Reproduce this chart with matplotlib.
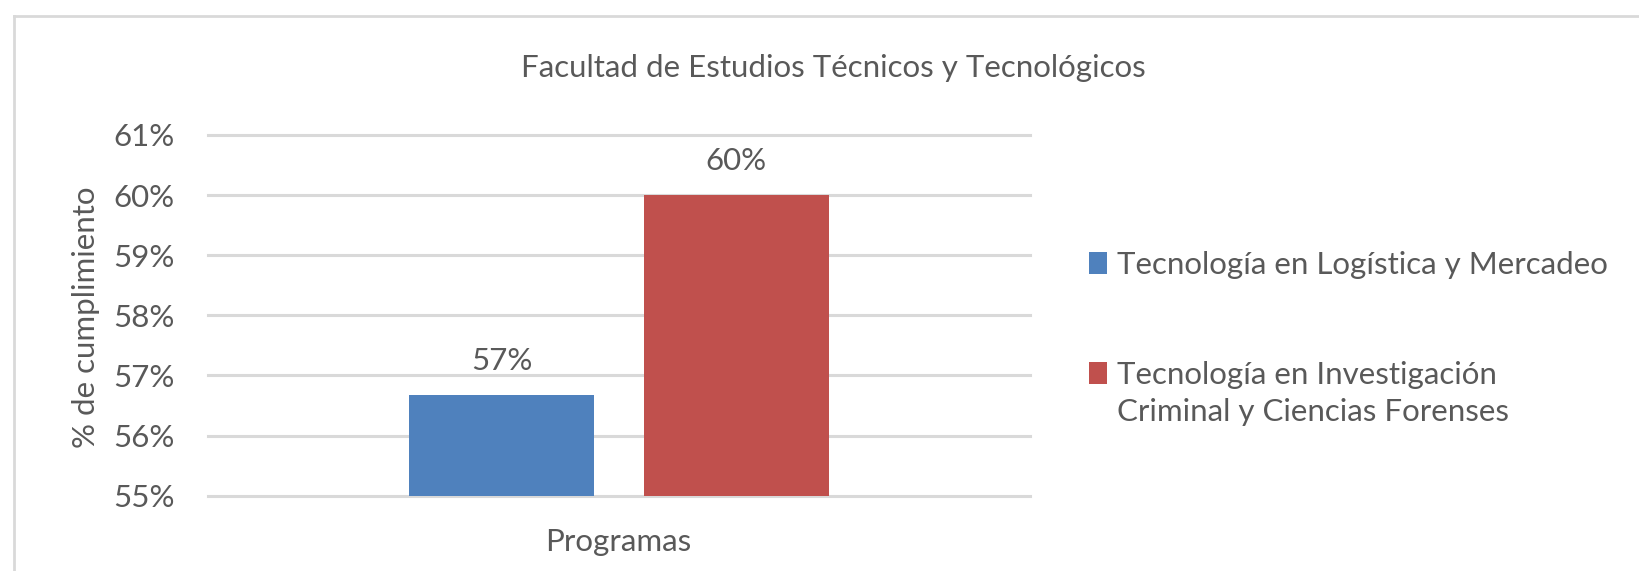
import matplotlib
matplotlib.use("Agg")
import matplotlib.pyplot as plt
from matplotlib.lines import Line2D
from matplotlib.patches import Rectangle
from matplotlib.ticker import FuncFormatter

# ---- data ----
title = "Facultad de Estudios Técnicos y Tecnológicos"
category = "Programas"
series_names = ["Tecnología en Logística y Mercadeo",
                "Tecnología en Investigación\nCriminal y Ciencias Forenses"]
series_values = [0.5667, 0.6000]
value_labels = ["57%", "60%"]
series_colors = ["#4F81BD", "#C0504D"]
y_ticks = [0.55, 0.56, 0.57, 0.58, 0.59, 0.60, 0.61]
y_label = "% de cumplimiento"

TXT = "#595959"
GRID = "#D9D9D9"
FS = 22.5
plt.rcParams['font.family'] = ['Lato', 'DejaVu Sans']

W, H = 1640, 571
fig = plt.figure(figsize=(W / 100, H / 100), dpi=100)
fig.patch.set_facecolor("white")

# chart border (top and left visible)
fig.add_artist(Line2D([14 / W, 1.0], [1 - 16 / H, 1 - 16 / H], color=GRID, lw=2.0,
                      transform=fig.transFigure))
fig.add_artist(Line2D([14 / W, 14 / W], [1 - 16 / H, 0.0], color=GRID, lw=2.0,
                      transform=fig.transFigure))

left, right = 207.7, 1030
top, bottom = 135, 495.7
ax = fig.add_axes([left / W, 1 - bottom / H, (right - left) / W, (bottom - top) / H])

bar_w = 0.225
offsets = [-0.1427, 0.1427]
for off, v, c, lbl in zip(offsets, series_values, series_colors, value_labels):
    ax.bar(off, v - y_ticks[0], bottom=y_ticks[0], width=bar_w, color=c, zorder=3)
    ax.annotate(lbl, xy=(off, v), xytext=(0, 18), textcoords="offset points",
                ha="center", va="baseline", fontsize=FS, color=TXT)

ax.set_xlim(-0.5, 0.5)
ax.set_ylim(y_ticks[0], y_ticks[-1])
ax.set_yticks(y_ticks)
ax.yaxis.set_major_formatter(FuncFormatter(lambda v, p: f"{round(v * 100)}%"))
ax.set_xticks([])
for s in ax.spines.values():
    s.set_visible(False)
ax.tick_params(axis="y", length=0, pad=24, labelsize=FS, labelcolor=TXT)
ax.grid(axis="y", color=GRID, lw=2.2, zorder=0)
ax.set_axisbelow(True)
for gl in ax.get_ygridlines():
    gl.set_clip_on(False)

# titles
fig.text(833 / W, 1 - 77 / H, title, ha="center", va="baseline", fontsize=FS, color=TXT)
fig.text(618 / W, 1 - 551 / H, category, ha="center", va="baseline", fontsize=FS, color=TXT)
fig.text(86 / W, 1 - 317 / H, y_label, ha="center", va="center", rotation=90,
         fontsize=FS, color=TXT)

# legend (swatch aligned to first line of each entry)
legend_baselines = [274, 384]
line_step = 37.5
for name, c, yb in zip(series_names, series_colors, legend_baselines):
    fig.add_artist(Rectangle((1089 / W, 1 - yb / H), 18 / W, 22 / H,
                             transform=fig.transFigure, color=c, lw=0))
    for i, line in enumerate(name.split("\n")):
        fig.text(1117 / W, 1 - (yb + i * line_step) / H, line, ha="left",
                 va="baseline", fontsize=FS, color=TXT)

fig.savefig("out.png", dpi=100, facecolor="white")
